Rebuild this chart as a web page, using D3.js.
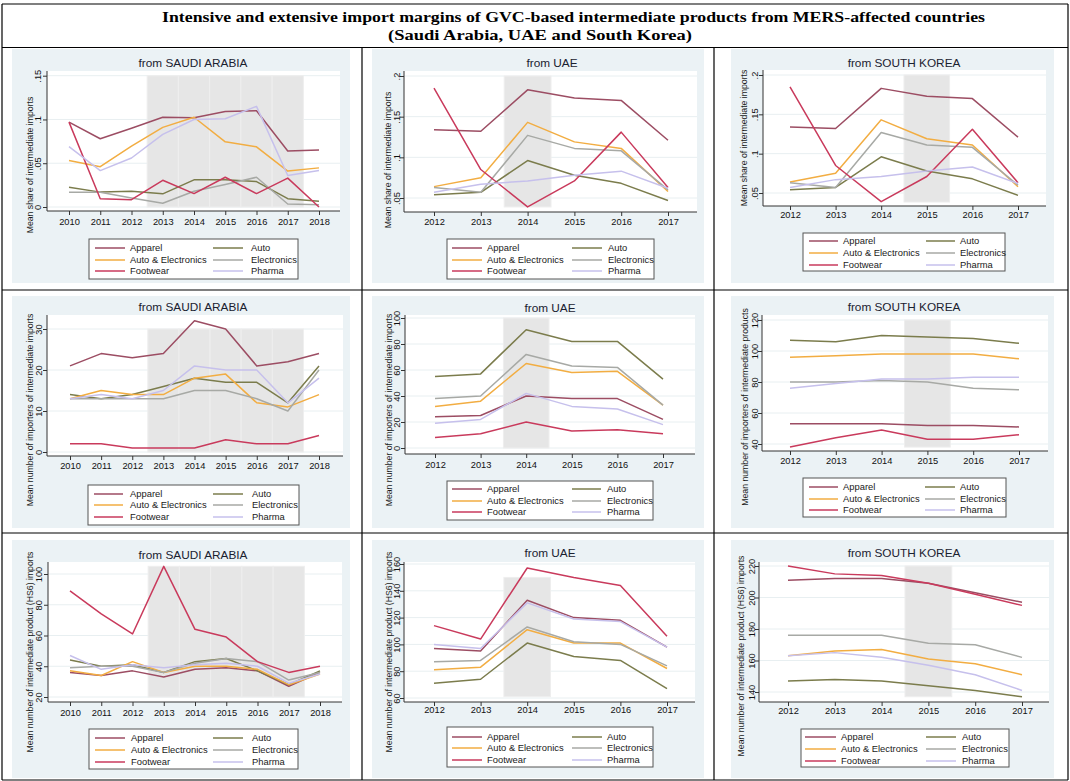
<!DOCTYPE html>
<html><head><meta charset="utf-8">
<script src="https://cdn.jsdelivr.net/npm/d3@7"></script>
<style>body{margin:0;background:#fff}svg{display:block}</style>
</head><body>
<svg id="c" width="1070" height="781"></svg>
<script>
// ---------- DATA ----------
const seriesNames = ["Apparel", "Auto", "Auto & Electronics", "Electronics", "Footwear", "Pharma"];
const legendOrder = [0, 1, 2, 3, 4, 5];
const yearsSaudi = [2010, 2011, 2012, 2013, 2014, 2015, 2016, 2017, 2018];
const yearsUAE = [2012, 2013, 2014, 2015, 2016, 2017];
const yearsKorea = [2012, 2013, 2014, 2015, 2016, 2017];
const shadeYearsSaudi = [2013, 2014, 2015, 2016, 2017];
const shadeYearsUAE = [2014];
const shadeYearsKorea = [2015];

// Row 1: mean share of intermediate imports (rows follow seriesNames)
const shareSaudi = [
  [0.097, 0.078, 0.090, 0.1025, 0.102, 0.109, 0.110, 0.064, 0.065],
  [0.0225, 0.017, 0.018, 0.015, 0.031, 0.031, 0.029, 0.0095, 0.0065],
  [0.053, 0.046, 0.0695, 0.091, 0.1025, 0.0745, 0.0687, 0.041, 0.0447],
  [0.0168, 0.0168, 0.0103, 0.0042, 0.018, 0.0256, 0.034, 0.0034, 0.0027],
  [0.097, 0.0095, 0.0084, 0.0305, 0.0153, 0.034, 0.0153, 0.033, 0.0],
  [0.069, 0.0416, 0.056, 0.083, 0.100, 0.1008, 0.115, 0.036, 0.0416]
];
const shareUAE = [
  [0.134, 0.132, 0.183, 0.173, 0.170, 0.121],
  [0.054, 0.057, 0.096, 0.078, 0.068, 0.047],
  [0.064, 0.075, 0.143, 0.119, 0.111, 0.058],
  [0.063, 0.057, 0.127, 0.111, 0.108, 0.060],
  [0.185, 0.085, 0.039, 0.071, 0.131, 0.063],
  [0.057, 0.067, 0.071, 0.078, 0.083, 0.062]
];
const shareKorea = [
  [0.134, 0.132, 0.183, 0.173, 0.170, 0.121],
  [0.054, 0.057, 0.096, 0.078, 0.068, 0.047],
  [0.064, 0.075, 0.143, 0.119, 0.111, 0.058],
  [0.063, 0.057, 0.127, 0.111, 0.108, 0.060],
  [0.185, 0.085, 0.039, 0.071, 0.131, 0.063],
  [0.057, 0.067, 0.071, 0.078, 0.083, 0.062]
];
// Row 2: mean number of importers
const importersSaudi = [
  [21, 24, 23, 24, 32, 30, 21, 22, 24],
  [14, 13, 14, 16, 18, 17, 17, 12, 21],
  [13, 15, 14, 14, 18, 19, 12, 11, 14],
  [13, 13, 13, 13, 15, 15, 13, 10, 20],
  [2, 2, 1, 1, 1, 3, 2, 2, 4],
  [13, 14, 13, 15, 21, 20, 20, 12, 18]
];
const importersUAE = [
  [24, 25, 40, 38, 38, 22],
  [55, 57, 91, 82, 82, 53],
  [32, 36, 65, 58, 59, 33],
  [38, 40, 72, 63, 62, 33],
  [8, 11, 20, 13, 14, 11],
  [19, 22, 42, 32, 30, 18]
];
const importersKorea = [
  [53, 53, 53, 52, 52, 51],
  [107, 106, 110, 109, 108, 105],
  [96, 97, 98, 98, 98, 95],
  [80, 80, 81, 80, 76, 75],
  [38, 44, 49, 43, 43, 46],
  [76, 79, 82, 82, 83, 83]
];
// Row 3: mean number of intermediate products (HS6)
const productsSaudi = [
  [36, 34, 37, 33, 38, 39, 37, 27, 36],
  [44, 40, 41, 36, 43, 45, 37, 28, 37],
  [37, 34, 43, 36, 40, 40, 38, 28, 35],
  [39, 40, 40, 36, 42, 45, 43, 31, 36],
  [89, 74, 61, 105, 64, 59, 43, 36, 40],
  [47, 38, 41, 39, 41, 42, 40, 29, 35]
];
const productsUAE = [
  [97, 95, 133, 120, 118, 98],
  [71, 74, 101, 91, 88, 67],
  [81, 83, 111, 101, 101, 82],
  [87, 88, 113, 102, 100, 84],
  [114, 104, 157, 150, 144, 106],
  [100, 97, 131, 119, 117, 98]
];
const productsKorea = [
  [211, 212, 212, 209, 203, 197],
  [147, 148, 147, 144, 141, 137],
  [163, 166, 167, 161, 158, 151],
  [176, 176, 176, 171, 170, 162],
  [220, 215, 214, 209, 202, 195],
  [163, 165, 162, 157, 151, 141]
];

// Tick values and labels
const ticksShareSaudi = [0, 0.05, 0.1, 0.15];
const labelsShareSaudi = ["0", ".05", ".1", ".15"];
const ticksShare = [0.05, 0.1, 0.15, 0.2];
const labelsShare = [".05", ".1", ".15", ".2"];
const ticksImpSaudi = [0, 10, 20, 30];
const ticksImpUAE = [0, 20, 40, 60, 80, 100];
const ticksImpKorea = [40, 60, 80, 100, 120];
const ticksProdSaudi = [20, 40, 60, 80, 100];
const ticksProdUAE = [60, 80, 100, 120, 140, 160];
const ticksProdKorea = [140, 160, 180, 200, 220];

// Shaded band vertical extents (data units)
const shadeRanges = [[0, 0.15], [0.039, 0.2], [0.0385, 0.2], [0, 30], [0, 100], [38, 120], [20, 105], [61, 150], [137, 220]];

const titleLine1 = "Intensive and extensive import margins of GVC-based intermediate products from MERS-affected countries";
const titleLine2 = "(Saudi Arabia, UAE and South Korea)";
const ytitleShare = "Mean share of intermediate imports";
const ytitleImp = "Mean number of importers of intermediate imports";
const ytitleImpKorea = "Mean number of importers of intermediate products";
const ytitleProd = "Mean number of intermediate product (HS6) imports";

// ---------- STYLE ----------
const colors = ["#9c4d63", "#7b7c4c", "#f2ad42", "#a7a9a5", "#c93a5c", "#c6c0ec"];
const bgColor = "#ebf2f5";
const sans = "'Liberation Sans', Arial, Helvetica, sans-serif";

// ---------- PANELS ----------
const panels = [
  {years: yearsSaudi, data: shareSaudi, title: "from SAUDI ARABIA", ytitle: ytitleShare, yt: ticksShareSaudi, yl: labelsShareSaudi, shade: shadeYearsSaudi,
   L: {bg: [12, 49, 350, 283], plot: [47, 71, 340, 211], xr: [69, 319], yv: [0, 0.15], yp: [207, 75.7], title: [193, 63], yti: [30, 165], ylx: 38, xly: 222,
       leg: [89, 239, 298, 279], rows: [248, 260, 271], c1: [95, 125, 130], c2: [213, 243, 251]}},
  {years: yearsUAE, data: shareUAE, title: "from UAE", ytitle: ytitleShare, yt: ticksShare, yl: labelsShare, shade: shadeYearsUAE,
   L: {bg: [372, 49, 704, 283], plot: [404, 71, 697, 212], xr: [434, 668], yv: [0.05, 0.2], yp: [198, 76], title: [552, 63], yti: [388, 160], ylx: 397, xly: 222,
       leg: [447, 239, 654, 279], rows: [248, 260, 271], c1: [452, 482, 487], c2: [572, 602, 608]}},
  {years: yearsKorea, data: shareKorea, title: "from SOUTH KOREA", ytitle: ytitleShare, yt: ticksShare, yl: labelsShare, shade: shadeYearsKorea,
   L: {bg: [731, 49, 1054, 283], plot: [763, 70, 1046, 206], xr: [790, 1018], yv: [0.05, 0.2], yp: [193, 75], title: [904, 63], yti: [744, 138], ylx: 755, xly: 215,
       leg: [803, 233, 1005, 271], rows: [241, 253, 265], c1: [809, 838, 843], c2: [926, 955, 960]}},
  {years: yearsSaudi, data: importersSaudi, title: "from SAUDI ARABIA", ytitle: ytitleImp, yt: ticksImpSaudi, yl: ticksImpSaudi.map(String), shade: shadeYearsSaudi,
   L: {bg: [12, 296, 350, 528], plot: [47, 315, 343, 456], xr: [70, 319], yv: [0, 30], yp: [452, 329], title: [193, 307], yti: [30, 410], ylx: 39, xly: 466,
       leg: [88, 485, 299, 525], rows: [494, 505, 517], c1: [94, 123, 130], c2: [213, 243, 252]}},
  {years: yearsUAE, data: importersUAE, title: "from UAE", ytitle: ytitleImp, yt: ticksImpUAE, yl: ticksImpUAE.map(String), shade: shadeYearsUAE,
   L: {bg: [372, 296, 704, 528], plot: [405, 315, 695, 454], xr: [435, 663], yv: [0, 100], yp: [448, 318], title: [550, 308], yti: [389, 410], ylx: 397, xly: 465,
       leg: [447, 481, 653, 520], rows: [489, 501, 512], c1: [452, 482, 487], c2: [572, 601, 607]}},
  {years: yearsKorea, data: importersKorea, title: "from SOUTH KOREA", ytitle: ytitleImpKorea, yt: ticksImpKorea, yl: ticksImpKorea.map(String), shade: shadeYearsKorea,
   L: {bg: [731, 296, 1054, 528], plot: [762, 315, 1048, 451], xr: [790, 1019], yv: [40, 120], yp: [444, 320], title: [904, 307], yti: [745, 407], ylx: 755, xly: 461,
       leg: [803, 478, 1006, 517], rows: [487, 499, 510], c1: [809, 838, 843], c2: [925, 955, 960]}},
  {years: yearsSaudi, data: productsSaudi, title: "from SAUDI ARABIA", ytitle: ytitleProd, yt: ticksProdSaudi, yl: ticksProdSaudi.map(String), shade: shadeYearsSaudi,
   L: {bg: [12, 540, 350, 778], plot: [48, 562, 342, 702], xr: [70, 320], yv: [20, 100], yp: [697, 574], title: [193, 555], yti: [30, 652], ylx: 39, xly: 713,
       leg: [89, 729, 298, 769], rows: [738, 750, 762], c1: [95, 125, 131], c2: [213, 243, 252]}},
  {years: yearsUAE, data: productsUAE, title: "from UAE", ytitle: ytitleProd, yt: ticksProdUAE, yl: ticksProdUAE.map(String), shade: shadeYearsUAE,
   L: {bg: [372, 540, 704, 778], plot: [404, 562, 695, 702], xr: [434, 667], yv: [60, 160], yp: [698, 564], title: [550, 553], yti: [389, 652], ylx: 397, xly: 710,
       leg: [447, 727, 653, 767], rows: [737, 748, 760], c1: [452, 482, 487], c2: [572, 602, 607]}},
  {years: yearsKorea, data: productsKorea, title: "from SOUTH KOREA", ytitle: ytitleProd, yt: ticksProdKorea, yl: ticksProdKorea.map(String), shade: shadeYearsKorea,
   L: {bg: [731, 540, 1054, 778], plot: [759, 562, 1049, 702], xr: [788, 1022], yv: [140, 220], yp: [692, 566], title: [904, 553], yti: [741, 656], ylx: 752, xly: 711,
       leg: [801, 729, 1009, 767], rows: [737, 749, 761], c1: [805, 836, 841], c2: [926, 956, 962]}}
];

const svg = d3.select("#c");

function drawPanel(p, idx) {
  const L = p.L;
  const g = svg.append("g");
  g.append("rect").attr("x", L.bg[0]).attr("y", L.bg[1]).attr("width", L.bg[2] - L.bg[0]).attr("height", L.bg[3] - L.bg[1]).attr("fill", bgColor);
  g.append("rect").attr("x", L.plot[0]).attr("y", L.plot[1]).attr("width", L.plot[2] - L.plot[0]).attr("height", L.plot[3] - L.plot[1]).attr("fill", "#fff");

  const x = d3.scaleLinear().domain([p.years[0], p.years[p.years.length - 1]]).range(L.xr);
  const y = d3.scaleLinear().domain(L.yv).range(L.yp);

  // grid
  g.selectAll(".grid").data(p.yt).join("line")
    .attr("x1", L.plot[0]).attr("x2", L.plot[2])
    .attr("y1", d => y(d)).attr("y2", d => y(d))
    .attr("stroke", "#e8eff1").attr("stroke-width", 1);

  // shaded years
  const sr = shadeRanges[idx];
  g.selectAll(".shade").data(p.shade).join("rect")
    .attr("x", d => x(d - 0.5)).attr("width", d => x(d + 0.5) - x(d - 0.5))
    .attr("y", y(sr[1])).attr("height", y(sr[0]) - y(sr[1]))
    .attr("fill", "#e6e6e6").attr("stroke", "#eeeeee").attr("stroke-width", 1);

  // lines
  const line = d3.line().x((d, i) => x(p.years[i])).y(d => y(d));
  p.data.forEach((vals, si) => {
    g.append("path").attr("d", line(vals)).attr("fill", "none")
      .attr("stroke", colors[si]).attr("stroke-width", 1.5).attr("stroke-linejoin", "round");
  });

  // y axis
  const yAx = g.append("g").attr("transform", `translate(${L.plot[0]},0)`)
    .call(d3.axisLeft(y).tickValues(p.yt).tickFormat((d, i) => p.yl[i]).tickSize(4));
  yAx.select(".domain").remove();
  yAx.selectAll(".tick line").attr("stroke", "#333");
  const k = L.plot[0] - (L.ylx + 3.3);
  yAx.selectAll(".tick text").attr("transform", "rotate(-90)").attr("x", 0).attr("y", -k).attr("dy", 0)
    .attr("text-anchor", "middle").style("font-family", sans).style("font-size", "9.3px").attr("fill", "#111");
  g.append("line").attr("x1", L.plot[0]).attr("x2", L.plot[0]).attr("y1", L.plot[1]).attr("y2", L.plot[3]).attr("stroke", "#333");

  // x axis
  const xAx = g.append("g").attr("transform", `translate(0,${L.plot[3]})`)
    .call(d3.axisBottom(x).tickValues(p.years).tickFormat(d3.format("d")).tickSize(4));
  xAx.select(".domain").remove();
  xAx.selectAll(".tick line").attr("stroke", "#333");
  xAx.selectAll(".tick text").attr("y", L.xly - L.plot[3]).attr("dy", "0.35em")
    .style("font-family", sans).style("font-size", "9.3px").attr("fill", "#111");
  g.append("line").attr("x1", L.plot[0]).attr("x2", L.plot[2]).attr("y1", L.plot[3]).attr("y2", L.plot[3]).attr("stroke", "#333");

  // titles
  g.append("text").attr("x", L.title[0]).attr("y", L.title[1]).attr("dy", "0.35em").attr("text-anchor", "middle")
    .style("font-family", sans).style("font-size", "11.8px").attr("fill", "#1a2130").text(p.title);
  g.append("text").attr("transform", `translate(${L.yti[0] + 3},${L.yti[1]}) rotate(-90)`).attr("text-anchor", "middle")
    .style("font-family", sans).style("font-size", "8.7px").attr("fill", "#1a1a1a").text(p.ytitle);

  // legend
  g.append("rect").attr("x", L.leg[0]).attr("y", L.leg[1]).attr("width", L.leg[2] - L.leg[0]).attr("height", L.leg[3] - L.leg[1])
    .attr("fill", "#fff").attr("stroke", "#555").attr("stroke-width", 1);
  legendOrder.forEach((si, j) => {
    const col = j % 2 === 0 ? L.c1 : L.c2;
    const ry = L.rows[Math.floor(j / 2)];
    g.append("line").attr("x1", col[0]).attr("x2", col[1]).attr("y1", ry).attr("y2", ry)
      .attr("stroke", colors[si]).attr("stroke-width", 1.5);
    g.append("text").attr("x", col[2]).attr("y", ry).attr("dy", "0.35em")
      .style("font-family", sans).style("font-size", "9.4px").attr("fill", "#1a1a1a").text(seriesNames[si]);
  });
}

panels.forEach(drawPanel);

// table frame
const frame = svg.append("g").attr("stroke", "#000").attr("stroke-width", 1.2);
[4, 47.5, 290, 533, 780].forEach(yy => frame.append("line").attr("x1", 2).attr("x2", 1068).attr("y1", yy).attr("y2", yy));
[2, 1068].forEach(xx => frame.append("line").attr("x1", xx).attr("x2", xx).attr("y1", 4).attr("y2", 780));
[362, 714].forEach(xx => frame.append("line").attr("x1", xx).attr("x2", xx).attr("y1", 47.5).attr("y2", 780));

// main title
svg.append("text").attr("x", 573.5).attr("y", 22).attr("text-anchor", "middle")
  .style("font-family", "'Liberation Serif', 'Times New Roman', serif").style("font-weight", "bold").style("font-size", "15.5px")
  .attr("textLength", 823).attr("lengthAdjust", "spacingAndGlyphs").text(titleLine1);
svg.append("text").attr("x", 540).attr("y", 40).attr("text-anchor", "middle")
  .style("font-family", "'Liberation Serif', 'Times New Roman', serif").style("font-weight", "bold").style("font-size", "15.5px")
  .attr("textLength", 304).attr("lengthAdjust", "spacingAndGlyphs").text(titleLine2);
</script>
</body></html>
